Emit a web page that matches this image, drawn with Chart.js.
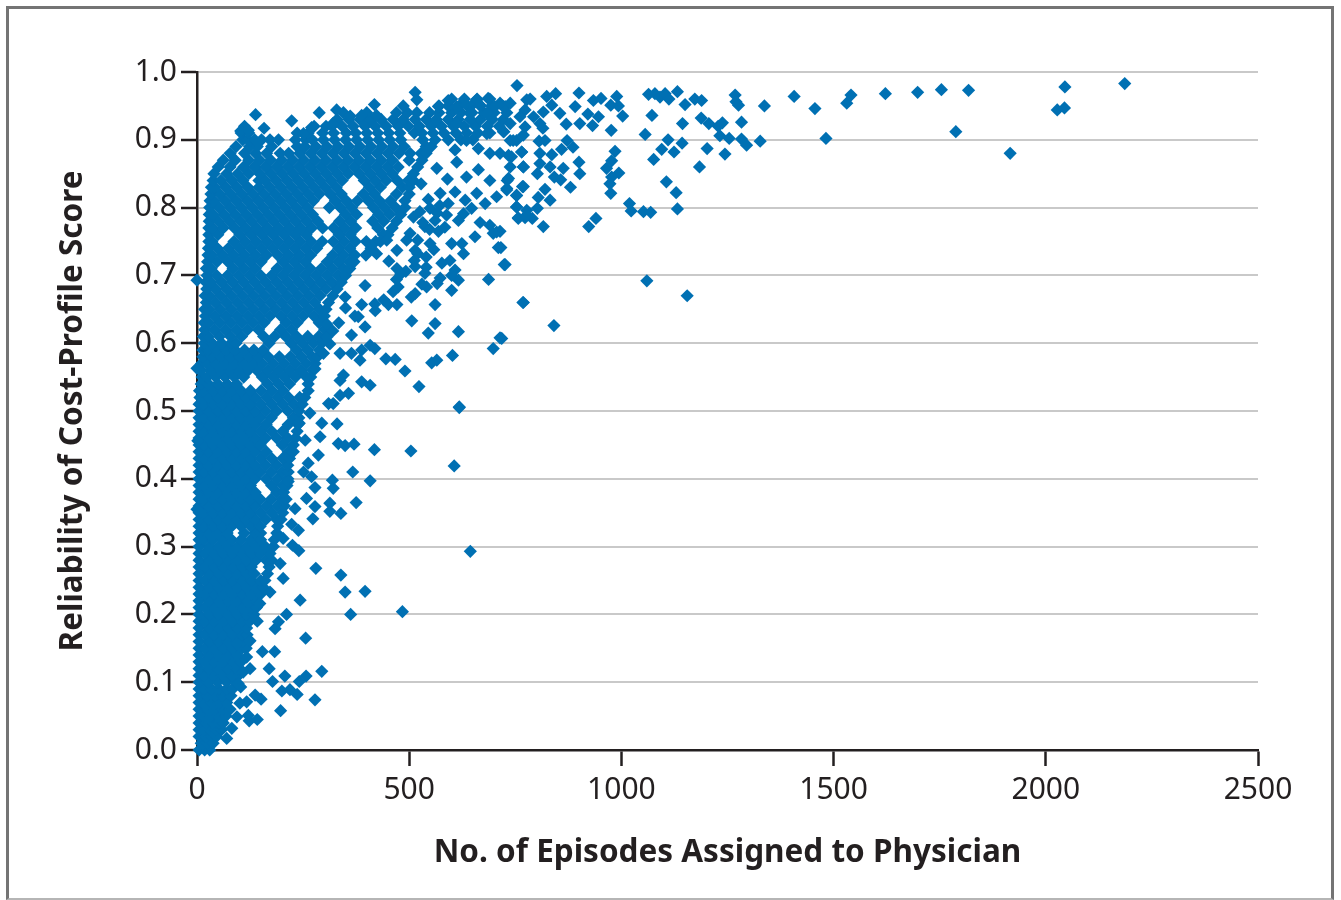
<!DOCTYPE html>
<html>
<head>
<meta charset="utf-8">
<title>Reliability of Cost-Profile Score</title>
<script src="https://cdn.jsdelivr.net/npm/chart.js@4/dist/chart.umd.min.js"></script>
<style>
  html, body { margin: 0; padding: 0; background: #fff; overflow: hidden; }
  #frame { position: absolute; box-sizing: border-box; left: 6px; top: 6px; width: 1328px; height: 894px;
           border: 3.5px solid #747474; border-bottom: 2px solid #b5b5b5; }
  #wrap { position: absolute; left: 0; top: 0; width: 1341px; height: 900px; }
</style>
</head>
<body>
<div id="frame"></div>
<div id="wrap"><canvas id="chart"></canvas></div>
<script>
// Tick labels
const xTicks = [0, 500, 1000, 1500, 2000, 2500];
const yTicks = [0.0, 0.1, 0.2, 0.3, 0.4, 0.5, 0.6, 0.7, 0.8, 0.9, 1.0];

const rowReliability = [
  0.00, 0.01, 0.02, 0.03, 0.04, 0.05, 0.06, 0.07, 0.08, 0.09,
  0.10, 0.11, 0.12, 0.13, 0.14, 0.15, 0.16, 0.17, 0.18, 0.19,
  0.20, 0.21, 0.22, 0.23, 0.24, 0.25, 0.26, 0.27, 0.28, 0.29,
  0.30, 0.31, 0.32, 0.33, 0.34, 0.35, 0.36, 0.37, 0.38, 0.39,
  0.40, 0.41, 0.42, 0.43, 0.44, 0.45, 0.46, 0.47, 0.48, 0.49,
  0.50, 0.51, 0.52, 0.53, 0.54, 0.55, 0.56, 0.57, 0.58, 0.59,
  0.60, 0.61, 0.62, 0.63, 0.64, 0.65, 0.66, 0.67, 0.68, 0.69,
  0.70, 0.71, 0.72, 0.73, 0.74, 0.75, 0.76, 0.77, 0.78, 0.79,
  0.80, 0.81, 0.82, 0.83, 0.84, 0.85, 0.86, 0.87, 0.88, 0.89,
  0.90, 0.91, 0.92, 0.93, 0.94, 0.95, 0.96
];
const rowEpisodes = [
  [5,18,30],
  [10,24,38],
  [5,20,35,46],
  [5,16,30,44,58],
  [5,22,38,52,62],
  [5,14,32,50,68],
  [5,24,42,60,78],
  [5,14,34,52,70],
  [5,24,42,60,80],
  [5,16,34,52,70,84],
  [5,26,48,70,92],
  [5,16,38,60,82,98],
  [5,28,50,72,94],
  [5,18,40,62,84,104],
  [5,28,50,72,94],
  [5,18,40,62,84,106,116],
  [5,29,51,73,95,108],
  [5,18,40,62,84,106,118],
  [5,29,51,73,95,117],
  [5,18,40,62,84,106,124],
  [5,29,51,73,95,117,134],
  [5,18,40,62,84,106,128,140],
  [5,29,51,73,95,117,139],
  [5,18,40,62,84,106,128,150],
  [5,29,51,73,95,117,139,156],
  [5,18,40,62,84,106,128,150,160],
  [5,29,51,73,95,117,135,166],
  [5,18,40,62,84,106,128,170],
  [5,29,51,73,95,117,139,163,176],
  [5,18,40,62,84,106,128,150,172],
  [5,29,51,73,95,117,139,161,180],
  [5,16,38,60,82,104,126,150,182],
  [5,27,49,71,111,137,150,188],
  [5,16,38,60,82,104,126,149,190],
  [5,27,49,71,93,115,137,162,188,198],
  [5,16,38,60,82,104,126,150,176,202],
  [5,27,49,71,93,115,137,163,189,206],
  [5,16,38,60,82,104,126,149,175,201,210],
  [5,27,49,71,93,115,137,188,204],
  [5,16,38,60,82,104,126,176,202,212],
  [5,27,49,71,93,115,137,163,189,214],
  [5,16,38,60,82,104,126,149,175,201,215],
  [5,27,49,71,93,115,137,162,188,214],
  [5,16,38,60,82,104,126,150,176,202,218],
  [5,27,49,71,93,115,137,163,215,224],
  [5,16,38,60,82,104,126,149,201,227],
  [5,27,49,71,93,115,137,162,188,214,232],
  [5,16,38,60,82,104,126,150,176,202,236],
  [5,27,49,71,93,115,137,163,215,238],
  [5,16,38,60,82,104,126,149,175,227,240],
  [5,27,49,71,93,115,137,162,188,214,240],
  [5,16,38,60,82,104,126,150,176,202,228,248],
  [7,27,49,71,93,115,137,164,190,216,242,254],
  [6,16,38,60,82,104,126,151,177,203,262],
  [10,27,49,71,93,166,192,218,262],
  [12,24,44,66,88,110,154,180,206,232,258,268],
  [10,33,55,77,99,121,141,167,193,219,245,272],
  [11,24,44,66,88,110,132,154,180,206,232,258,278],
  [14,34,56,78,100,122,144,168,194,220,246,272,284],
  [14,26,46,68,90,112,134,156,234,260,288],
  [17,36,58,80,92,170,222,248,274,294],
  [15,27,53,79,105,157,183,209,235,261,287,304],
  [18,41,67,93,119,145,197,223,301,314],
  [17,28,54,80,106,132,158,210,236,288],
  [20,42,68,94,120,146,172,198,224,250,276,300],
  [18,29,55,81,107,133,159,185,211,237,263,289,304],
  [22,43,69,95,121,147,173,199,225,251,277,310],
  [19,30,56,82,108,134,160,186,212,238,264,290,320],
  [23,44,70,96,122,148,174,200,226,252,278,304,330],
  [21,32,58,84,110,136,162,188,214,240,266,292,318,340],
  [24,46,72,98,124,150,176,202,228,254,280,306,332,350],
  [22,33,85,111,137,189,215,241,267,293,319,345,360],
  [25,47,73,99,125,151,203,229,255,307,333,359,370],
  [26,34,60,86,112,138,164,190,216,242,268,320,346,372,398],
  [27,48,74,100,126,152,178,204,230,256,282,334,360,410],
  [28,35,87,113,139,165,191,217,243,269,295,321,347,373,399,421,432],
  [28,49,101,127,153,179,205,231,257,335,361,439,450],
  [28,36,62,88,114,140,166,192,218,244,270,296,322,348,374,426,460],
  [29,50,76,102,128,154,180,206,232,258,284,336,362,414,440,470],
  [29,38,64,90,116,142,168,194,220,246,272,350,376,428,454,480],
  [30,52,78,104,130,156,182,208,234,260,312,338,364,416,442,468,490],
  [31,40,66,92,118,144,170,196,222,248,274,326,352,378,404,430,456,490],
  [33,54,80,106,132,158,184,210,236,262,288,314,340,392,418,470,500],
  [34,42,68,94,120,146,172,198,224,250,276,302,328,406,432,484,500],
  [38,56,82,108,146,160,186,212,238,264,290,316,342,394,420,446,472,498,510],
  [40,70,96,122,148,174,200,226,252,278,304,330,356,382,408,434,460,510],
  [50,78,110,136,162,188,214,240,266,292,318,344,370,396,422,448,474,520],
  [62,90,122,148,174,200,226,252,278,304,330,356,382,408,434,460,500,530],
  [78,112,138,164,196,216,242,268,294,320,346,372,398,424,450,476,502,528,540],
  [92,124,142,176,236,254,280,306,332,358,384,410,436,462,488,540,552],
  [108,120,136,152,172,192,232,256,272,298,324,350,376,402,428,454,480,532,561,592,622,650],
  [104,122,236,262,296,322,352,374,400,426,452,478,512,530,556,582,610,636,662,690],
  [112,276,304,318,342,368,396,420,446,474,498,524,552,576,604,630,656,684,712],
  [330,358,384,408,434,462,486,514,540,564,592,616,644,668,696,722],
  [345,400,470,496,518,548,570,600,622,648,676,700,730],
  [486,570,592,618,646,668,694,720],
  [600,630,660,690]
];

// Separate points outside the dense part, read one at a time
const looseEpisodes = [
  1531,1541,1622,1698,1754,1818,1788,1916,2027,2044,2045,2186,
  754,785,824,845,900,934,952,989,993,1003,975,946,932,902,921,891,870,855,836,816,808,815,793,773,761,773,769,753,738,723,738,726,
  806,820,872,859,886,976,985,977,965,994,977,973,975,900,902,880,863,857,842,832,808,808,836,802,769,765,741,738,731,730,767,820,753,804,832,753,777,757,773,790,802,816,923,940,
  1019,1023,1052,1069,1132,1129,1106,1184,1076,1095,1124,1143,1110,1056,1144,1072,1150,1064,1079,1091,1103,1112,1132,1173,1189,1188,1206,1228,1238,1232,1254,1202,1244,1283,1283,1295,1327,1268,1270,1276,1337,1407,1456,1482,1060,1155,768,841,724,716,718,714,
  514,518,418,329,288,223,138,158,103,121,423,361,388,320,270,251,569,592,686,659,714,738,612,635,667,702,777,
  612,643,683,722,683,635,745,608,663,690,714,734,769,765,663,612,635,690,734,565,573,608,659,769,730,706,679,632,647,592,753,753,549,510,525,561,588,616,628,667,690,706,757,777,537,569,502,655,698,710,726,600,624,549,514,494,471,447,628,596,577,514,608,537,471,573,616,687,541,474,600,514,769,561,451,471,388,419,506,561,545,616,714,698,602,565,553,490,523,618,445,467,384,408,419,337,364,388,345,337,388,408,357,337,321,310,423,380,396,364,313,298,278,349,306,
  618,330,294,266,241,333,349,370,418,504,606,367,408,319,321,278,375,313,313,339,278,273,239,223,203,225,240,644,280,339,349,396,243,211,362,484,184,192,142,256,125,154,183,94,117,170,294,125,109,207,257,241,178,97,103,200,219,236,278,151,137,117,101,197,142,123,121,94,82,70,
  196,203,172,148,231,258,215,270,251,286,262,290,255,227,
  0,0,2,0,
  528,545,532,520,558,572,548,590,566,584,540,600,512,530,470,492,505,452,480,520,540,566,440,462,420,396,372,350,334,320,306
];
const looseReliability = [
  .954,.966,.968,.970,.974,.973,.912,.880,.944,.947,.978,.983,
  .980,.960,.964,.968,.969,.958,.961,.964,.950,.935,.951,.934,.921,.924,.938,.949,.923,.939,.951,.941,.924,.917,.934,.944,.934,.919,.907,.899,.899,.912,.924,.949,
  .898,.899,.899,.886,.889,.914,.883,.869,.858,.851,.845,.835,.821,.867,.850,.830,.858,.841,.845,.860,.880,.865,.878,.850,.860,.882,.875,.860,.840,.826,.831,.827,.818,.815,.811,.801,.796,.785,.785,.784,.799,.772,.772,.784,
  .806,.795,.794,.793,.798,.822,.838,.860,.871,.886,.882,.895,.900,.908,.924,.936,.952,.967,.968,.963,.968,.960,.971,.960,.958,.932,.924,.920,.925,.906,.902,.887,.879,.926,.901,.892,.898,.966,.956,.951,.950,.964,.946,.902,.692,.670,.660,.626,.716,.741,.607,.765,
  .970,.959,.952,.944,.940,.928,.937,.917,.913,.914,.936,.935,.936,.924,.918,.909,.949,.958,.961,.959,.954,.954,.949,.951,.951,.949,.959,
  .924,.939,.939,.912,.909,.899,.899,.885,.887,.880,.880,.877,.860,.882,.856,.867,.845,.840,.843,.858,.821,.823,.821,.831,.828,.816,.806,.811,.799,.806,.818,.801,.799,.786,.794,.781,.789,.781,.791,.778,.774,.764,.784,.789,.772,.765,.762,.757,.762,.741,.716,.747,.747,.747,.737,.752,.737,.752,.732,.722,.718,.713,.708,.703,.710,.696,.693,.694,.683,.683,.678,.673,.660,.657,.657,.657,.657,.658,.633,.629,.615,.617,.608,.592,.582,.575,.571,.559,.536,.506,.577,.576,.575,.597,.592,.585,.585,.590,.553,.545,.543,.538,.526,.523,.511,.511,.732,.639,.624,.612,.599,.585,.562,.668,.609,
  .505,.481,.482,.497,.482,.452,.449,.451,.443,.441,.419,.410,.397,.398,.386,.387,.365,.364,.352,.349,.359,.341,.324,.333,.312,.302,.294,.293,.268,.258,.233,.234,.221,.200,.200,.204,.179,.189,.190,.165,.161,.145,.145,.157,.137,.120,.116,.120,.115,.109,.109,.101,.101,.098,.093,.087,.089,.082,.074,.075,.081,.071,.069,.058,.045,.043,.051,.049,.032,.017,
  .275,.253,.233,.216,.356,.371,.396,.403,.410,.435,.423,.462,.457,.440,
  .693,.563,.456,.355,
  .835,.812,.778,.752,.738,.803,.768,.842,.792,.771,.727,.700,.722,.687,.694,.706,.668,.721,.702,.732,.712,.688,.664,.676,.648,.685,.640,.652,.630,.618,.628
];

const points = [];
rowEpisodes.forEach(function(row, i) {
  row.forEach(function(ep) {
    points.push({ x: ep, y: rowReliability[i] });
  });
});
looseEpisodes.forEach(function(ep, i) {
  points.push({ x: ep, y: looseReliability[i] });
});

const inkColor = '#231f20';
const gridColor = '#c9c9c9';
const dotColor = '#0070b3';
const tickFont = { family: '"Noto Sans"', size: 30 };
const titleFont = { family: '"Noto Sans"', size: 31.5, weight: 'bold' };

new Chart(document.getElementById('chart'), {
  type: 'scatter',
  data: {
    datasets: [{
      data: points,
      pointStyle: 'rectRot',
      pointRadius: 6.6,
      pointBorderWidth: 0,
      backgroundColor: dotColor,
      borderColor: dotColor,
      clip: false
    }]
  },
  options: {
    responsive: true,
    maintainAspectRatio: false,
    animation: false,
    layout: { padding: { left: 0, right: 83, top: 72, bottom: 0 } },
    plugins: { legend: { display: false }, tooltip: { enabled: false } },
    scales: {
      x: {
        type: 'linear',
        min: 0,
        max: 2500,
        afterBuildTicks: function(scale) { scale.ticks = xTicks.map(function(v) { return { value: v }; }); },
        afterFit: function(scale) { scale.height = 150; },
        grid: { drawOnChartArea: false, color: inkColor, tickColor: inkColor, tickLength: 16, tickWidth: 2.5 },
        border: { color: inkColor, width: 2.5 },
        ticks: { color: inkColor, font: tickFont, padding: 6, maxRotation: 0, autoSkip: false, callback: function(v) { return String(v); } },
        title: { display: true, text: 'No. of Episodes Assigned to Physician', color: inkColor, font: titleFont, padding: { top: 0, bottom: 28 } }
      },
      y: {
        type: 'linear',
        min: 0,
        max: 1,
        afterBuildTicks: function(scale) { scale.ticks = yTicks.map(function(v) { return { value: v }; }); },
        afterFit: function(scale) { scale.width = 197; },
        grid: { color: gridColor, lineWidth: 2, tickColor: inkColor, tickLength: 16, tickWidth: 2.5 },
        border: { color: inkColor, width: 2.5 },
        ticks: { color: inkColor, font: tickFont, padding: 4, autoSkip: false, callback: function(v) { return v.toFixed(1); } },
        title: { display: true, text: 'Reliability of Cost-Profile Score', color: inkColor, font: titleFont, padding: { top: 54, bottom: 0 } }
      }
    }
  }
});
</script>
</body>
</html>
